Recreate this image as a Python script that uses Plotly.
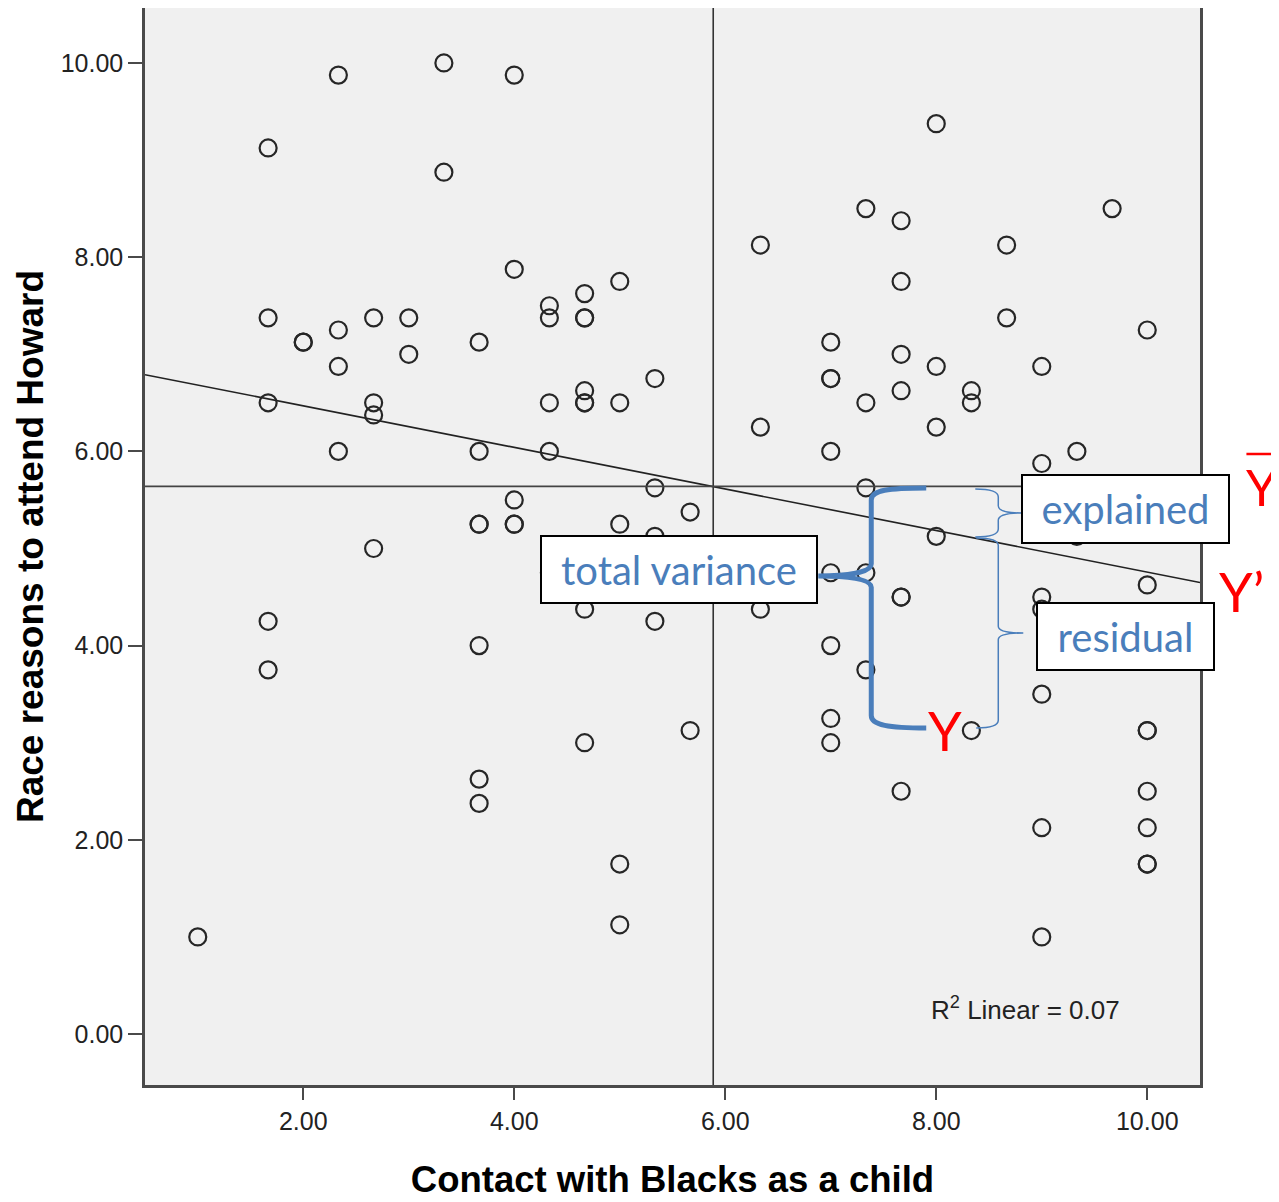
import numpy as np
import plotly.graph_objects as go

# ---- data ----
contact = [1.0,
           1.667, 1.667, 1.667, 1.667, 1.667,
           2.0, 2.0,
           2.333, 2.333, 2.333, 2.333,
           2.667, 2.667, 2.667, 2.667,
           3.0, 3.0,
           3.333, 3.333,
           3.667, 3.667, 3.667, 3.667, 3.667, 3.667, 3.667,
           4.0, 4.0, 4.0, 4.0, 4.0,
           4.333, 4.333, 4.333, 4.333, 4.333,
           4.667, 4.667, 4.667, 4.667, 4.667, 4.667, 4.667, 4.667,
           5.0, 5.0, 5.0, 5.0, 5.0,
           5.333, 5.333, 5.333, 5.333,
           5.667, 5.667,
           6.333, 6.333, 6.333,
           7.0, 7.0, 7.0, 7.0, 7.0, 7.0, 7.0, 7.0,
           7.333, 7.333, 7.333, 7.333, 7.333,
           7.667, 7.667, 7.667, 7.667, 7.667, 7.667, 7.667,
           8.0, 8.0, 8.0, 8.0,
           8.333, 8.333, 8.333,
           8.667, 8.667,
           9.0, 9.0, 9.0, 9.0, 9.0, 9.0, 9.0,
           9.333, 9.333,
           9.667,
           10.0, 10.0, 10.0, 10.0, 10.0, 10.0, 10.0, 10.0]
race = [1.0,
        9.125, 7.375, 6.5, 4.25, 3.75,
        7.125, 7.125,
        9.875, 7.25, 6.875, 6.0,
        7.375, 6.5, 6.375, 5.0,
        7.375, 7.0,
        10.0, 8.875,
        7.125, 6.0, 5.25, 5.25, 4.0, 2.625, 2.375,
        9.875, 7.875, 5.5, 5.25, 5.25,
        7.5, 7.375, 6.5, 6.0, 4.75,
        7.625, 7.375, 7.375, 6.625, 6.5, 6.5, 4.375, 3.0,
        7.75, 6.5, 5.25, 1.75, 1.125,
        6.75, 5.625, 5.125, 4.25,
        5.375, 3.125,
        8.125, 6.25, 4.375,
        7.125, 6.75, 6.75, 6.0, 4.75, 4.0, 3.25, 3.0,
        8.5, 6.5, 5.625, 4.75, 3.75,
        8.375, 7.75, 7.0, 6.625, 4.5, 4.5, 2.5,
        9.375, 6.875, 6.25, 5.125,
        6.625, 6.5, 3.125,
        8.125, 7.375,
        6.875, 5.875, 4.5, 4.375, 3.5, 2.125, 1.0,
        6.0, 5.125,
        8.5,
        7.25, 4.625, 3.125, 3.125, 2.5, 2.125, 1.75, 1.75]

# reference lines (means and linear fit)
mean_contact = 5.886
mean_race = 5.64
fit_x = [0.5, 10.5]
fit_y = [6.79, 4.65]

x_ticks = [2, 4, 6, 8, 10]
y_ticks = [0, 2, 4, 6, 8, 10]
x_title = "Contact with Blacks as a child"
y_title = "Race reasons to attend Howard"
r2_label = "R<sup>2</sup> Linear = 0.07"

x_range = [0.5, 10.5]
y_range = [-0.525, 10.566]

BLUE = "#4a7ebb"
RED = "#ff0000"

fig = go.Figure()
fig.add_trace(go.Scatter(x=fit_x, y=fit_y, mode="lines",
                         line=dict(color="#222222", width=1.6),
                         hoverinfo="skip", showlegend=False))
fig.add_trace(go.Scatter(x=contact, y=race, mode="markers",
                         marker=dict(symbol="circle-open", size=17, color="#262626",
                                     line=dict(width=2.2)),
                         showlegend=False))

# mean lines
fig.add_shape(type="line", xref="x", yref="y domain", x0=mean_contact, x1=mean_contact, y0=0, y1=1,
              line=dict(color="#333333", width=1.6))
fig.add_shape(type="line", xref="x domain", yref="y", x0=0, x1=1, y0=mean_race, y1=mean_race,
              line=dict(color="#444444", width=1.8))

# big "total variance" bracket
fig.add_shape(type="path", xref="x", yref="y", layer="above",
              path=("M 7.905,5.623 C 7.55,5.623 7.384,5.60 7.384,5.50 L 7.384,4.84 "
                    "C 7.384,4.75 7.15,4.717 6.882,4.717 C 7.15,4.717 7.384,4.69 7.384,4.60 "
                    "L 7.384,3.28 C 7.384,3.18 7.55,3.151 7.905,3.151"),
              line=dict(color=BLUE, width=5))
# explained brace
fig.add_shape(type="path", xref="x", yref="y", layer="above",
              path=("M 8.370,5.613 Q 8.588,5.613 8.588,5.53 L 8.588,5.44 "
                    "Q 8.588,5.366 8.806,5.366 Q 8.588,5.366 8.588,5.29 "
                    "L 8.588,5.20 Q 8.588,5.118 8.370,5.118"),
              line=dict(color=BLUE, width=1.5))
# residual brace
fig.add_shape(type="path", xref="x", yref="y", layer="above",
              path=("M 8.379,5.108 Q 8.588,5.108 8.588,5.03 L 8.588,4.20 "
                    "Q 8.588,4.13 8.825,4.13 Q 8.588,4.13 8.588,4.06 "
                    "L 8.588,3.23 Q 8.588,3.151 8.379,3.151"),
              line=dict(color=BLUE, width=1.5))
# overbar for Y-bar
fig.add_shape(type="line", xref="paper", yref="paper", x0=1.044, x1=1.074, y0=0.5859, y1=0.5859,
              line=dict(color=RED, width=2.5))

box_font = dict(family="Lato, Open Sans, sans-serif", size=40, color=BLUE)
fig.add_annotation(x=5.564, y=4.784, xref="x", yref="y", text="total variance", showarrow=False,
                   font=box_font, bgcolor="white", bordercolor="black", borderwidth=2,
                   borderpad=0, width=274, height=65)
fig.add_annotation(x=9.796, y=5.407, xref="x", yref="y", text="explained", showarrow=False,
                   font=box_font, bgcolor="white", bordercolor="black", borderwidth=2,
                   borderpad=0, width=205, height=66)
fig.add_annotation(x=9.796, y=4.094, xref="x", yref="y", text="residual", showarrow=False,
                   font=box_font, bgcolor="white", bordercolor="black", borderwidth=2,
                   borderpad=0, width=175, height=65)

red_font = dict(family="Lato, Open Sans, sans-serif", size=54, color=RED)
fig.add_annotation(x=8.085, y=3.13, xref="x", yref="y", text="Y", showarrow=False, font=red_font)
fig.add_annotation(x=1.039, y=0.458, xref="paper", yref="paper", text="Y’", showarrow=False,
                   font=red_font, xanchor="center", yanchor="middle")
fig.add_annotation(x=1.059, y=0.555, xref="paper", yref="paper", text="Y", showarrow=False,
                   font=dict(family="Lato, Open Sans, sans-serif", size=50, color=RED),
                   xanchor="center", yanchor="middle")

fig.add_annotation(x=8.844, y=0.268, xref="x", yref="y", text=r2_label, showarrow=False,
                   font=dict(family="Liberation Sans, Arial, sans-serif", size=26, color="#222222"))

axis_common = dict(showline=True, mirror=True, linecolor="#4a4a4a", linewidth=2.5,
                   showgrid=False, zeroline=False, ticks="outside", tickcolor="#4a4a4a",
                   tickwidth=2, tickformat=".2f", automargin=False,
                   tickfont=dict(family="Liberation Sans, Arial, sans-serif", size=25, color="#222222"))

# the page body adds an 8px offset, so the figure is sized to fit the window
fig.update_layout(
    width=1271, height=1194,
    margin=dict(l=137, r=79, t=0, b=117),
    paper_bgcolor="white", plot_bgcolor="#f0f0f0",
    xaxis=dict(range=x_range, tickvals=x_ticks, ticklen=12, **axis_common,
               title=dict(text=f"<b>{x_title}</b>", standoff=33,
                          font=dict(family="Liberation Sans, Arial, sans-serif", size=36.5, color="black"))),
    yaxis=dict(range=y_range, tickvals=y_ticks, ticklen=14, **axis_common,
               title=dict(text=f"<b>{y_title}</b>", standoff=6,
                          font=dict(family="Liberation Sans, Arial, sans-serif", size=37, color="black"))),
)

fig.write_html("out.html")
